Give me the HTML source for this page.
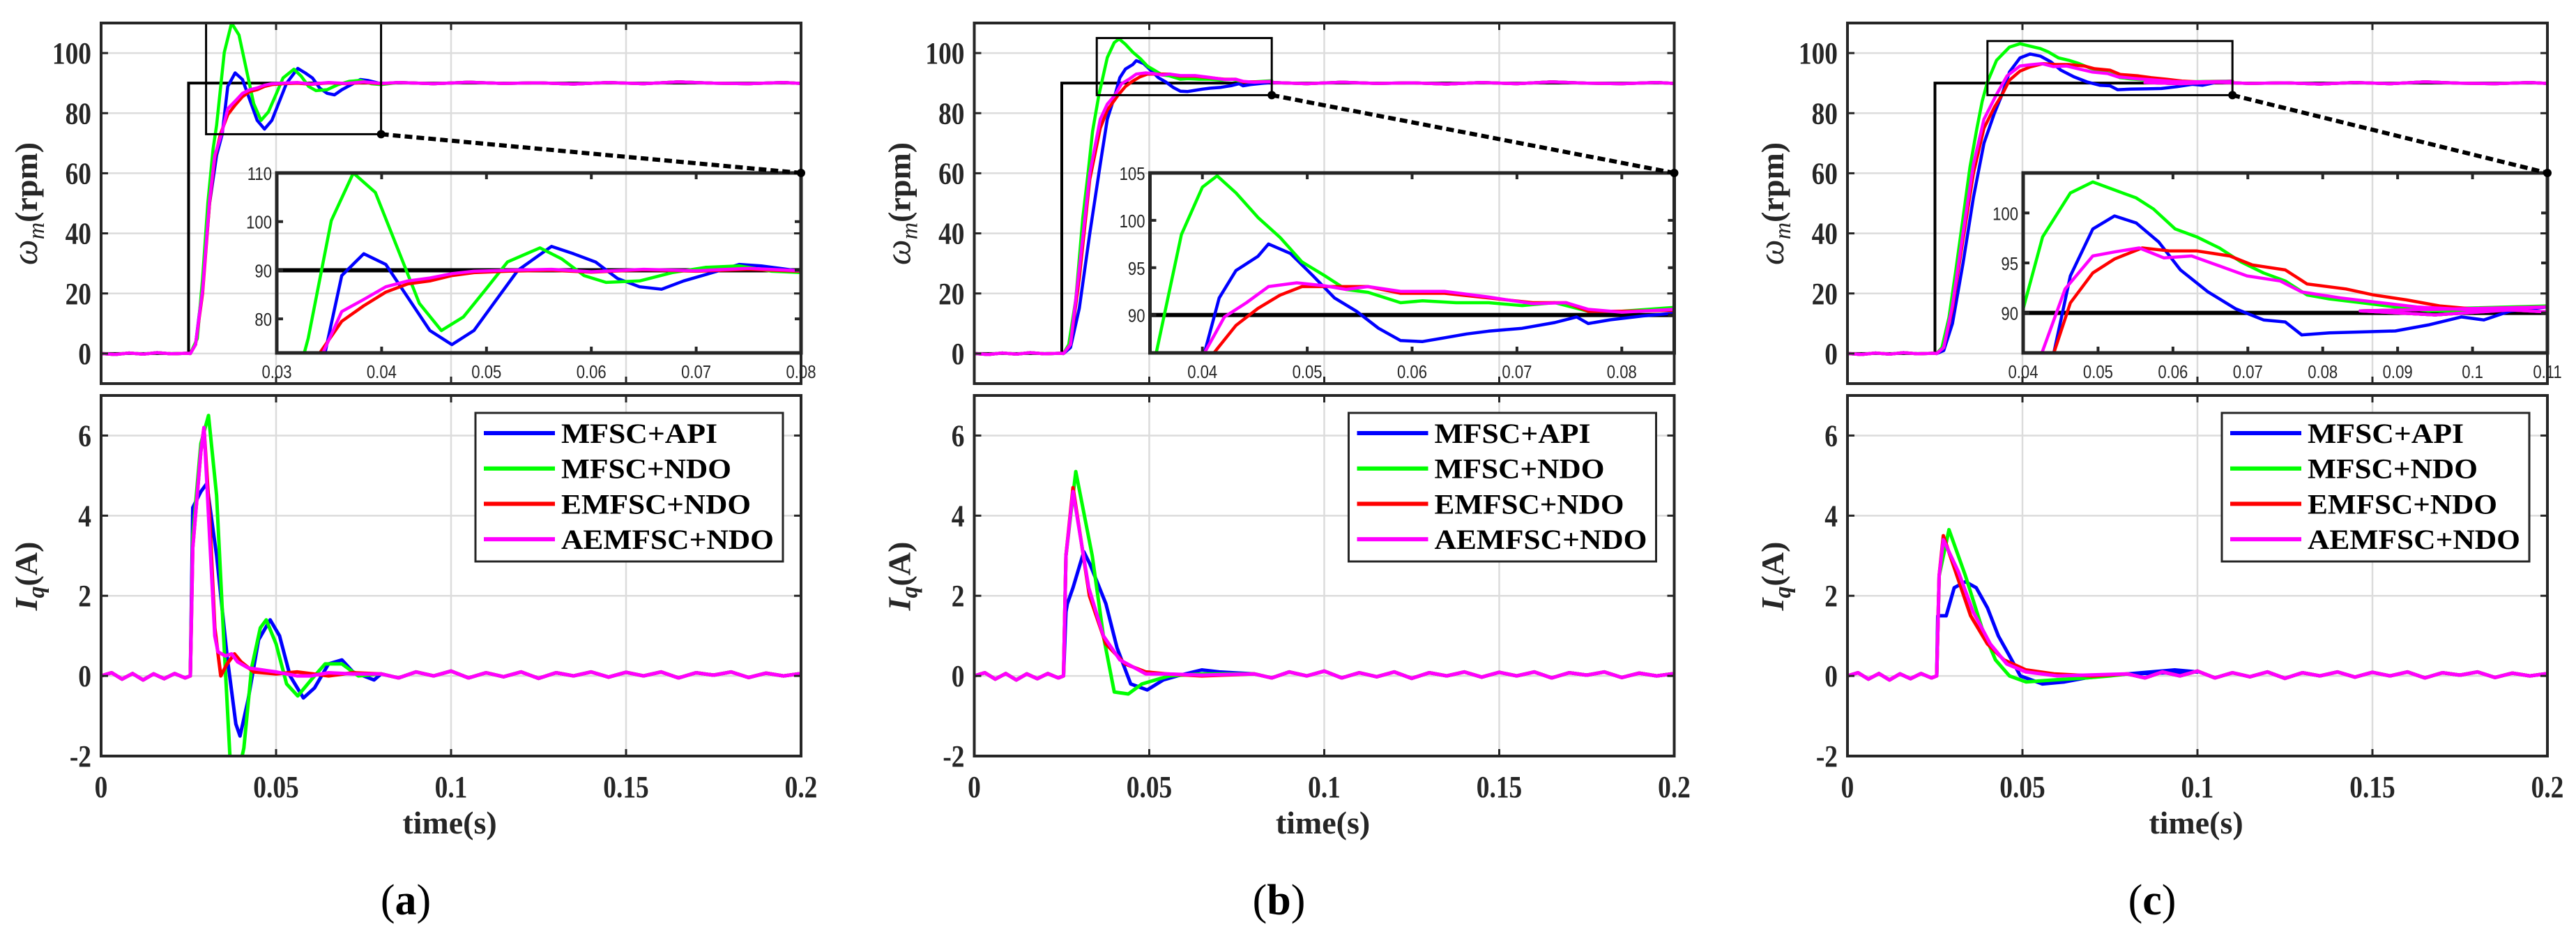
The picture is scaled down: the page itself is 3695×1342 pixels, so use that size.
<!DOCTYPE html>
<html><head><meta charset="utf-8">
<style>
html,body{margin:0;padding:0;background:#fff;width:3695px;height:1342px;overflow:hidden;}
svg{display:block;}
.tk{font-family:"Liberation Serif",serif;font-weight:bold;font-size:44px;fill:#262626;}
.itk{font-family:"Liberation Sans",sans-serif;font-size:26px;fill:#262626;}
.lg{font-family:"Liberation Serif",serif;font-weight:bold;font-size:40px;fill:#000;}
</style></head>
<body>
<svg id="fig" width="3695" height="1342" viewBox="0 0 3695 1342" xmlns="http://www.w3.org/2000/svg"></svg>
<script>
// ---------- data (time s, value) ----------
const seriesNames = ["MFSC+API","MFSC+NDO","EMFSC+NDO","AEMFSC+NDO"];
const seriesColors = ["#0000ff","#00ff00","#ff0000","#ff00ff"];
const panelLetters = ["(a)","(b)","(c)"];
const topYTicks = [0,20,40,60,80,100];
const botYTicks = [-2,0,2,4,6];
const xTicks = [0,0.05,0.1,0.15,0.2];
const xTickLabels = ["0","0.05","0.1","0.15","0.2"];

const speedTail = [[0.085,90.2],[0.095,89.8],[0.105,90.3],[0.115,89.9],[0.125,90.1],[0.135,89.7],[0.145,90.2],[0.155,89.8],[0.165,90.4],[0.175,90.0],[0.185,89.8],[0.195,90.2],[0.2,89.9]];
const speedPre = [[0,0],[0.004,-0.3],[0.008,0.2],[0.012,-0.2],[0.016,0.3],[0.02,-0.1],[0.0245,0.1],[0.0255,0]];
const curTail = [[0.08,0.05],[0.085,-0.05],[0.09,0.1],[0.095,0.0],[0.1,0.12],[0.105,-0.05],[0.11,0.08],[0.115,-0.02],[0.12,0.1],[0.125,-0.06],[0.13,0.08],[0.135,0.0],[0.14,0.1],[0.145,-0.03],[0.15,0.09],[0.155,0.0],[0.16,0.1],[0.165,-0.05],[0.17,0.08],[0.175,0.02],[0.18,0.1],[0.185,-0.04],[0.19,0.07],[0.195,0.0],[0.2,0.06]];
const curPre = [[0,0],[0.003,0.08],[0.006,-0.08],[0.009,0.06],[0.012,-0.1],[0.015,0.05],[0.018,-0.07],[0.021,0.06],[0.024,-0.05],[0.0255,0]];

// panel (a) speed
const spA_blue = [[0.027,3],[0.029,22],[0.031,50],[0.033,66],[0.0346,73],[0.0362,88.9],[0.0383,93.4],[0.0404,91.2],[0.0425,84.4],[0.0446,77.6],[0.0467,74.7],[0.0488,77.6],[0.0509,83.8],[0.053,90],[0.0562,94.9],[0.0583,93.4],[0.0604,91.7],[0.0625,88.3],[0.0646,86.6],[0.0667,86.1],[0.0688,87.8],[0.072,89.8],[0.0741,91.2],[0.0762,90.9],[0.0783,90.3],[0.08,89.8]];
const spA_green = [[0.0275,5],[0.029,25],[0.0305,50],[0.032,68],[0.033,76],[0.0352,100.2],[0.0373,110],[0.0394,106],[0.0415,94.6],[0.0436,83.2],[0.0457,77.6],[0.0478,80.4],[0.0499,86],[0.052,91.7],[0.0551,94.6],[0.0572,92.3],[0.0593,88.9],[0.0614,87.5],[0.0646,87.8],[0.0677,89.5],[0.0709,90.6],[0.0741,90.9],[0.0772,89.8],[0.08,89.5]];
const spA_red = [[0.027,3],[0.029,20],[0.031,50],[0.0325,65],[0.0341,73],[0.0362,79.5],[0.0383,82.7],[0.0404,85.5],[0.0425,87.2],[0.0446,87.8],[0.0467,88.9],[0.0488,89.5],[0.052,89.8],[0.0562,90],[0.06,89.6],[0.065,90.1],[0.07,89.8],[0.075,90.2],[0.08,89.8]];
const spA_mag = [[0.027,3],[0.029,21],[0.031,51],[0.0325,66],[0.0344,73],[0.0362,81.5],[0.0383,84],[0.0404,86.6],[0.0425,87.8],[0.0446,88.4],[0.0467,89.3],[0.0488,89.8],[0.052,90],[0.0562,90.2],[0.06,89.7],[0.065,90.2],[0.07,89.9],[0.075,90.4],[0.08,89.9]];
// panel (a) current
const iqA_blue = [[0.0262,4.2],[0.0285,4.6],[0.0302,4.8],[0.033,3.0],[0.036,0.5],[0.0385,-1.2],[0.0397,-1.5],[0.042,-0.6],[0.045,0.9],[0.0483,1.4],[0.051,1.0],[0.054,0.0],[0.0578,-0.55],[0.061,-0.3],[0.065,0.3],[0.0688,0.4],[0.072,0.1],[0.078,-0.1]];
const iqA_green = [[0.0262,3.5],[0.0285,5.8],[0.0307,6.5],[0.033,4.5],[0.035,1.0],[0.037,-2.3],[0.0388,-2.6],[0.0408,-1.8],[0.043,0.2],[0.0455,1.2],[0.0472,1.4],[0.05,0.8],[0.053,-0.2],[0.0562,-0.5],[0.06,-0.1],[0.064,0.3],[0.0688,0.3],[0.0735,0.0]];
const iqA_red = [[0.0262,3.2],[0.0285,5.6],[0.0294,6.2],[0.031,4.0],[0.0325,1.2],[0.0342,0.0],[0.036,0.3],[0.0381,0.55],[0.04,0.35],[0.0436,0.1],[0.05,0.05],[0.056,0.1],[0.065,0.0],[0.072,0.08]];
const iqA_mag = [[0.0262,3.2],[0.0285,5.6],[0.0294,6.2],[0.031,3.5],[0.0325,1.0],[0.0334,0.6],[0.0355,0.5],[0.0373,0.55],[0.039,0.35],[0.042,0.2],[0.046,0.15],[0.05,0.1],[0.056,0.0],[0.06,0.0],[0.065,0.08],[0.072,0.05]];

// panel (b) speed
const spB_blue = [[0.0275,2],[0.03,15],[0.033,40],[0.036,63],[0.038,78],[0.0402,86],[0.0416,91.8],[0.0432,94.7],[0.0453,96.2],[0.0463,97.5],[0.0484,96.5],[0.0505,94.2],[0.0526,91.8],[0.0547,90.4],[0.0568,88.6],[0.0589,87.3],[0.061,87.2],[0.0631,87.6],[0.0652,88],[0.0673,88.3],[0.0705,88.6],[0.0736,89.2],[0.0757,89.8],[0.0768,89.1],[0.0789,89.5],[0.082,89.9],[0.085,90.2]];
const spB_green = [[0.027,3],[0.029,18],[0.031,45],[0.0325,60],[0.0338,74],[0.0356,86],[0.038,98.5],[0.04,103.5],[0.0414,104.7],[0.0432,102.9],[0.0453,100.3],[0.0474,98.2],[0.0495,95.6],[0.0516,94.2],[0.0537,92.7],[0.0558,92.4],[0.0589,91.3],[0.061,91.5],[0.0642,91.3],[0.0673,91.3],[0.0705,91],[0.0736,91.3],[0.0768,90.4],[0.08,90.4],[0.085,90.8]];
const spB_red = [[0.0275,3],[0.03,25],[0.033,58],[0.036,75],[0.038,81],[0.0411,86],[0.0432,88.9],[0.0453,90.7],[0.0474,92.1],[0.0495,93],[0.0516,93],[0.0537,93],[0.0558,93],[0.0589,92.3],[0.0631,92.3],[0.0673,91.8],[0.0715,91.3],[0.0747,91.3],[0.0768,90.4],[0.08,90.4],[0.085,90.5]];
const spB_mag = [[0.0275,3],[0.03,28],[0.033,60],[0.036,78],[0.038,83],[0.0402,86],[0.0421,89.8],[0.0442,91.3],[0.0463,93],[0.049,93.4],[0.0516,93.1],[0.0537,92.7],[0.0558,93],[0.0589,92.5],[0.0631,92.5],[0.0673,91.9],[0.0715,91.2],[0.0747,91.3],[0.0768,90.6],[0.08,90.3],[0.085,90.6]];
// panel (b) current
const iqB_blue = [[0.0262,1.6],[0.0266,1.8],[0.0282,2.2],[0.0313,3.1],[0.033,2.8],[0.0376,1.8],[0.0408,0.7],[0.0447,-0.2],[0.0494,-0.35],[0.054,-0.1],[0.058,0.0],[0.065,0.15],[0.07,0.1]];
const iqB_green = [[0.0262,3.0],[0.029,5.1],[0.0337,3.0],[0.0369,1.0],[0.04,-0.4],[0.044,-0.45],[0.0479,-0.2],[0.0557,0.0],[0.065,0.05]];
const iqB_red = [[0.0262,3.0],[0.0282,4.7],[0.0329,2.0],[0.0376,0.8],[0.0431,0.3],[0.049,0.1],[0.055,0.05],[0.065,0.0]];
const iqB_mag = [[0.0262,3.0],[0.0282,4.6],[0.0327,2.2],[0.0369,1.0],[0.0416,0.4],[0.049,0.05],[0.055,0.05],[0.065,0.02]];

// panel (c) speed
const spC_blue = [[0.0275,1],[0.03,10],[0.033,30],[0.036,52],[0.039,70],[0.042,80],[0.0441,86],[0.0463,93.7],[0.0493,98.4],[0.0522,99.7],[0.0551,99],[0.0581,97.1],[0.061,94.3],[0.0647,92.1],[0.0684,90.4],[0.0721,89.3],[0.075,89.1],[0.0772,87.8],[0.0809,88],[0.0853,88.1],[0.0897,88.2],[0.0941,88.8],[0.0985,89.6],[0.1015,89.3],[0.1051,90.2],[0.11,90.6]];
const spC_green = [[0.027,2],[0.029,12],[0.031,28],[0.033,45],[0.035,62],[0.037,75],[0.0385,84],[0.04,90.4],[0.0426,97.6],[0.0463,102],[0.0493,103.1],[0.0522,102.3],[0.0551,101.5],[0.0574,100.4],[0.0603,98.4],[0.0632,97.6],[0.0662,96.5],[0.0691,95.1],[0.0721,94],[0.075,93.2],[0.0779,91.8],[0.0809,91.4],[0.0853,91],[0.0897,90.6],[0.0941,90.2],[0.1,90.2],[0.11,90.7]];
const spC_red = [[0.0275,2],[0.03,15],[0.033,38],[0.036,60],[0.039,75],[0.042,82],[0.0441,86],[0.0463,91],[0.0493,94],[0.0522,95.4],[0.0559,96.5],[0.0596,96.2],[0.0632,96.2],[0.0676,95.7],[0.0706,94.8],[0.075,94.3],[0.0779,92.9],[0.0831,92.4],[0.0868,91.8],[0.0912,91.3],[0.0956,90.7],[0.1,90.4],[0.11,90.6]];
const spC_mag = [[0.0275,2],[0.03,16],[0.033,40],[0.036,63],[0.039,78],[0.0425,86],[0.0456,92.4],[0.0493,95.7],[0.0522,96.1],[0.0555,96.5],[0.0588,95.5],[0.0625,95.7],[0.0662,94.7],[0.0699,93.7],[0.0743,93.2],[0.0772,92.1],[0.0824,91.5],[0.0868,91.1],[0.0926,90.6],[0.1,90.3],[0.11,90.6]];
// panel (c) current
const iqC_blue = [[0.0258,1.5],[0.0282,1.5],[0.0305,2.2],[0.0337,2.35],[0.0368,2.2],[0.04,1.7],[0.0431,1.0],[0.0463,0.5],[0.0494,0.0],[0.0557,-0.2],[0.062,-0.15],[0.068,-0.05],[0.08,0.05],[0.0935,0.15],[0.1,0.1]];
const iqC_green = [[0.0262,2.5],[0.029,3.65],[0.0337,2.5],[0.0384,1.2],[0.0423,0.4],[0.0463,0.0],[0.051,-0.15],[0.0589,-0.1],[0.068,-0.05],[0.075,0.0]];
const iqC_red = [[0.0262,2.5],[0.0274,3.5],[0.0313,2.5],[0.0352,1.5],[0.04,0.8],[0.0447,0.4],[0.051,0.15],[0.059,0.05],[0.07,0.0]];
const iqC_mag = [[0.0262,2.5],[0.0274,3.4],[0.0317,2.6],[0.0359,1.6],[0.0408,0.8],[0.0455,0.3],[0.051,0.1],[0.06,0.0]];

const speedData = [[spA_blue,spA_green,spA_red,spA_mag],[spB_blue,spB_green,spB_red,spB_mag],[spC_blue,spC_green,spC_red,spC_mag]];
const currentData = [[iqA_blue,iqA_green,iqA_red,iqA_mag],[iqB_blue,iqB_green,iqB_red,iqB_mag],[iqC_blue,iqC_green,iqC_red,iqC_mag]];

const insetXRange = [[0.03,0.08],[0.035,0.085],[0.04,0.11]];
const insetYRange = [[73,110],[86,105],[86,104]];
const insetXTicks = [[0.03,0.04,0.05,0.06,0.07,0.08],[0.04,0.05,0.06,0.07,0.08],[0.04,0.05,0.06,0.07,0.08,0.09,0.1,0.11]];
const insetXTickLabels = [["0.03","0.04","0.05","0.06","0.07","0.08"],["0.04","0.05","0.06","0.07","0.08"],["0.04","0.05","0.06","0.07","0.08","0.09","0.1","0.11"]];
const insetYTicks = [[80,90,100,110],[90,95,100,105],[90,95,100]];
const refStepTime = 0.025;
const refLevel = 90;
const legendWidths = [224,244,272,305];

// ---------- drawing ----------
const NS="http://www.w3.org/2000/svg";
const fig=document.getElementById('fig');
function mk(tag,attrs,parent){const e=document.createElementNS(NS,tag);for(const k in attrs)e.setAttribute(k,attrs[k]);(parent||fig).appendChild(e);return e;}
function fullSpeed(s){return speedPre.concat(s,speedTail);}
function fullCur(s){return curPre.concat(s,curTail);}
function pts(arr,sx,sy){return arr.map(p=>sx(p[0]).toFixed(1)+","+sy(p[1]).toFixed(1)).join(" ");}
function tickText(parent,x,y,anchor,txt,name){
  const t=mk('text',{transform:`translate(${x},${y}) scale(0.85,1)`,'text-anchor':anchor,class:'tk'},parent);
  t.textContent=txt;
  
  
  return t;
}

for(let p=0;p<3;p++){
  const axL=145+p*1252.5, axR=axL+1004;
  const g=mk('g',{});
  
  
  const sx=t=>axL+t/0.2*(axR-axL);
  // ===== top axes =====
  const tT=33,tB=550;
  const syT=v=>tB-(v+10)/120*(tB-tT);
  const cpT=mk('clipPath',{id:'cpT'+p},g);mk('rect',{x:axL,y:tT,width:axR-axL,height:tB-tT},cpT);
  xTicks.slice(1,4).forEach(t=>{const l=mk('line',{x1:sx(t),x2:sx(t),y1:tT,y2:tB,stroke:'#dcdcdc','stroke-width':2.5},g);});
  topYTicks.forEach(v=>{const l=mk('line',{x1:axL,x2:axR,y1:syT(v),y2:syT(v),stroke:'#dcdcdc','stroke-width':2.5},g);});
  const ref=mk('polyline',{points:`${sx(0)},${syT(0)} ${sx(refStepTime)},${syT(0)} ${sx(refStepTime)},${syT(refLevel)} ${sx(0.2)},${syT(refLevel)}`,fill:'none',stroke:'#000','stroke-width':4,'clip-path':`url(#cpT${p})`},g);
  
  speedData[p].forEach((s,i)=>{const l=mk('polyline',{points:pts(fullSpeed(s),sx,syT),fill:'none',stroke:seriesColors[i],'stroke-width':4.5,'stroke-linejoin':'round','clip-path':`url(#cpT${p})`},g);});
  const zx0=sx(insetXRange[p][0]),zx1=sx(insetXRange[p][1]),zy0=syT(insetYRange[p][1]),zy1=syT(insetYRange[p][0]);
  const zr=mk('rect',{x:zx0,y:zy0,width:zx1-zx0,height:zy1-zy0,fill:'none',stroke:'#000','stroke-width':3},g);
  
  const bT=mk('rect',{x:axL,y:tT,width:axR-axL,height:tB-tT,fill:'none',stroke:'#262626','stroke-width':4},g);
  
  xTicks.slice(1,4).forEach(t=>{mk('line',{x1:sx(t),x2:sx(t),y1:tT,y2:tT+10,stroke:'#262626','stroke-width':3},g);mk('line',{x1:sx(t),x2:sx(t),y1:tB,y2:tB-10,stroke:'#262626','stroke-width':3},g);});
  topYTicks.forEach(v=>{mk('line',{x1:axL,x2:axL+10,y1:syT(v),y2:syT(v),stroke:'#262626','stroke-width':3},g);mk('line',{x1:axR,x2:axR-10,y1:syT(v),y2:syT(v),stroke:'#262626','stroke-width':3},g);
    tickText(g,axL-14,syT(v)+15,'end',v,'y-tick-label');});
  const yl=mk('text',{transform:`translate(${axL-92},292) rotate(-90)`,'text-anchor':'middle',style:'font-family:"Liberation Serif",serif;font-size:46px;font-weight:bold;fill:#262626'},g);
  yl.innerHTML='<tspan font-style="italic" font-weight="normal" font-size="52">ω</tspan><tspan font-style="italic" font-weight="normal" font-size="34" dy="10">m</tspan><tspan dy="-10">(rpm)</tspan>';
  
  // inset
  const iL=axL+252,iR=axR,iT=248,iB=506;
  const [ix0,ix1]=insetXRange[p],[iy0,iy1]=insetYRange[p];
  const isx=t=>iL+(t-ix0)/(ix1-ix0)*(iR-iL), isy=v=>iB-(v-iy0)/(iy1-iy0)*(iB-iT);
  const cpI=mk('clipPath',{id:'cpI'+p},g);mk('rect',{x:iL,y:iT,width:iR-iL,height:iB-iT},cpI);
  const ig=mk('g',{},g);
  const rl=mk('line',{x1:iL,x2:iR,y1:isy(refLevel),y2:isy(refLevel),stroke:'#000','stroke-width':6},ig);
  
  speedData[p].forEach((s,i)=>{const l=mk('polyline',{points:pts(fullSpeed(s),isx,isy),fill:'none',stroke:seriesColors[i],'stroke-width':4.5,'stroke-linejoin':'round','clip-path':`url(#cpI${p})`},ig);});
  mk('rect',{x:iL,y:iT,width:iR-iL,height:iB-iT,fill:'none',stroke:'#262626','stroke-width':5},ig);
  insetXTicks[p].forEach((t,k)=>{const x=isx(t);mk('line',{x1:x,x2:x,y1:iT,y2:iT+9,stroke:'#262626','stroke-width':4},ig);mk('line',{x1:x,x2:x,y1:iB,y2:iB-9,stroke:'#262626','stroke-width':4},ig);
    const tx=mk('text',{transform:`translate(${x},${iB+36}) scale(0.85,1)`,'text-anchor':'middle',class:'itk'},ig);tx.textContent=insetXTickLabels[p][k];});
  insetYTicks[p].forEach(v=>{const y=isy(v);mk('line',{x1:iL,x2:iL+9,y1:y,y2:y,stroke:'#262626','stroke-width':4},ig);mk('line',{x1:iR,x2:iR-9,y1:y,y2:y,stroke:'#262626','stroke-width':4},ig);
    const tx=mk('text',{transform:`translate(${iL-7},${y+10}) scale(0.85,1)`,'text-anchor':'end',class:'itk'},ig);tx.textContent=v;});
  const dl=mk('line',{x1:zx1,y1:zy1,x2:iR,y2:iT,stroke:'#000','stroke-width':6,'stroke-dasharray':'11,6'},g);
  
  mk('circle',{cx:zx1,cy:zy1,r:6,fill:'#000'},g);mk('circle',{cx:iR,cy:iT,r:6,fill:'#000'},g);

  // ===== bottom axes =====
  const bTop=567,bBot=1084;
  const syB=v=>bBot-(v+2)/9*(bBot-bTop);
  const cpB=mk('clipPath',{id:'cpB'+p},g);mk('rect',{x:axL,y:bTop,width:axR-axL,height:bBot-bTop},cpB);
  xTicks.slice(1,4).forEach(t=>{const l=mk('line',{x1:sx(t),x2:sx(t),y1:bTop,y2:bBot,stroke:'#dcdcdc','stroke-width':2.5},g);});
  botYTicks.forEach(v=>{const l=mk('line',{x1:axL,x2:axR,y1:syB(v),y2:syB(v),stroke:'#dcdcdc','stroke-width':2.5},g);});
  currentData[p].forEach((s,i)=>{const l=mk('polyline',{points:pts(fullCur(s),sx,syB),fill:'none',stroke:seriesColors[i],'stroke-width':5,'stroke-linejoin':'round','clip-path':`url(#cpB${p})`},g);});
  const bB=mk('rect',{x:axL,y:bTop,width:axR-axL,height:bBot-bTop,fill:'none',stroke:'#262626','stroke-width':4},g);
  
  xTicks.forEach((t,k)=>{mk('line',{x1:sx(t),x2:sx(t),y1:bTop,y2:bTop+10,stroke:'#262626','stroke-width':3},g);mk('line',{x1:sx(t),x2:sx(t),y1:bBot,y2:bBot-10,stroke:'#262626','stroke-width':3},g);
    tickText(g,sx(t),1143,'middle',xTickLabels[k],'x-tick-label');});
  botYTicks.forEach(v=>{mk('line',{x1:axL,x2:axL+10,y1:syB(v),y2:syB(v),stroke:'#262626','stroke-width':3},g);mk('line',{x1:axR,x2:axR-10,y1:syB(v),y2:syB(v),stroke:'#262626','stroke-width':3},g);
    tickText(g,axL-14,syB(v)+15,'end',v,'y-tick-label');});
  const yl2=mk('text',{transform:`translate(${axL-92},826) rotate(-90)`,'text-anchor':'middle',style:'font-family:"Liberation Serif",serif;font-size:46px;font-weight:bold;fill:#262626'},g);
  yl2.innerHTML='<tspan font-style="italic">I</tspan><tspan font-style="italic" font-size="34" dy="10">q</tspan><tspan dy="-10">(A)</tspan>';
  
  const xt=mk('text',{x:axL+500,y:1195,'text-anchor':'middle',style:'font-family:"Liberation Serif",serif;font-size:46px;font-weight:bold;fill:#262626'},g);
  xt.textContent='time(s)';
  // legend
  const lgL=axL+537,lgT=592;
  const lg=mk('g',{},g);
  mk('rect',{x:lgL,y:lgT,width:441,height:213,fill:'#fff',stroke:'#262626','stroke-width':3},lg);
  seriesNames.forEach((n,i)=>{const y=621+i*50.7;
    const e=mk('g',{},lg);
    mk('line',{x1:lgL+12,x2:lgL+114,y1:y,y2:y,stroke:seriesColors[i],'stroke-width':6},e);
    const t=mk('text',{x:lgL+123,y:y+14,class:'lg',textLength:legendWidths[i],lengthAdjust:'spacingAndGlyphs'},e);t.textContent=n;});
  const pl=mk('text',{x:axL+437,y:1311,'text-anchor':'middle',style:'font-family:"Liberation Serif",serif;font-size:62px;fill:#000'},g);
  pl.innerHTML='(<tspan font-weight="bold">'+panelLetters[p].slice(1,2)+'</tspan>)';
  
}
</script>
</body></html>
